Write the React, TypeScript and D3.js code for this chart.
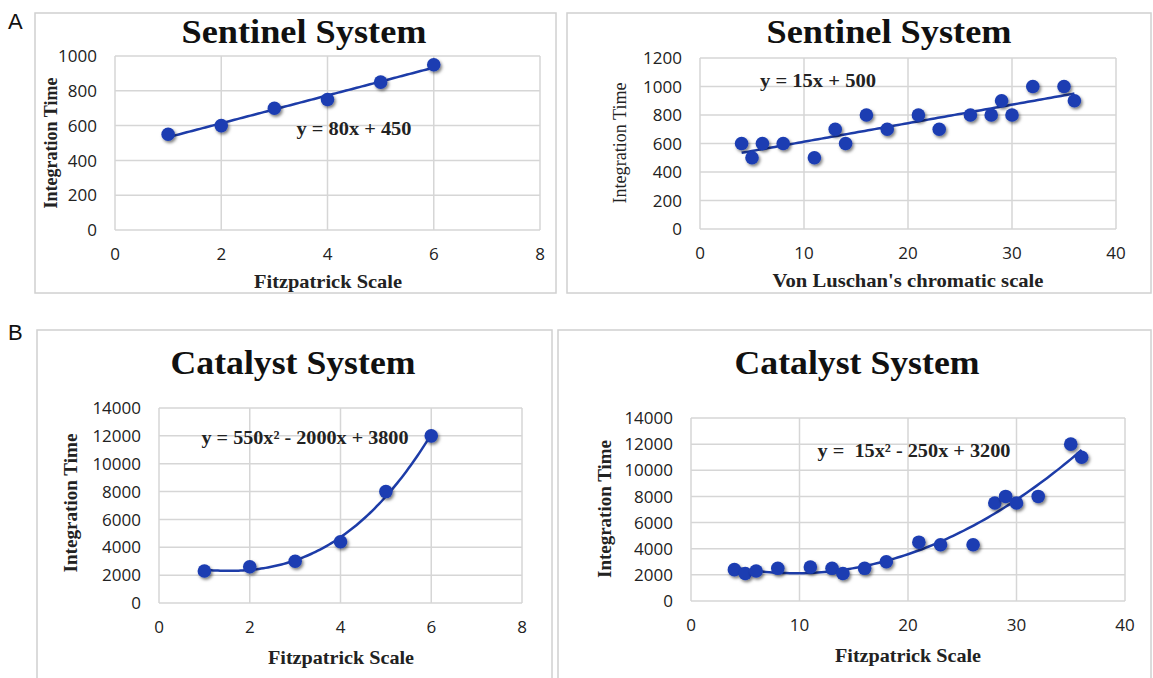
import React from 'react';
import * as d3 from 'd3';

// ---------- data ----------
const fitzX = [1, 2, 3, 4, 5, 6];
const sentinelFitzY = [550, 600, 700, 750, 850, 950];
const vonLuschanX = [4, 5, 6, 8, 11, 13, 14, 16, 18, 21, 23, 26, 28, 29, 30, 32, 35, 36];
const sentinelVLY = [600, 500, 600, 600, 500, 700, 600, 800, 700, 800, 700, 800, 800, 900, 800, 1000, 1000, 900];
const catalystFitzY = [2300, 2600, 3000, 4400, 8000, 12000];
const catalystX = [4, 5, 6, 8, 11, 13, 14, 16, 18, 21, 23, 26, 28, 29, 30, 32, 35, 36];
const catalystY = [2400, 2100, 2300, 2500, 2600, 2500, 2100, 2500, 3000, 4500, 4300, 4300, 7500, 8000, 7500, 8000, 12000, 11000];

const xTicksFitz = [0, 2, 4, 6, 8];
const xTicksVL = [0, 10, 20, 30, 40];
const yTicksSentinelFitz = [0, 200, 400, 600, 800, 1000];
const yTicksSentinelVL = [0, 200, 400, 600, 800, 1000, 1200];
const yTicksCatalyst = [0, 2000, 4000, 6000, 8000, 10000, 12000, 14000];

const titles = ['Sentinel System', 'Sentinel System', 'Catalyst System', 'Catalyst System'];
const equations = ['y = 80x + 450', 'y = 15x + 500', 'y = 550x\u00B2 - 2000x + 3800', 'y =  15x\u00B2 - 250x + 3200'];
const xTitles = ['Fitzpatrick Scale', "Von Luschan's chromatic scale", 'Fitzpatrick Scale', 'Fitzpatrick Scale'];
const yTitle = 'Integration Time';

// ---------- helpers ----------
function polyfit(xs: number[], ys: number[], deg: number): number[] {
  const n = deg + 1;
  const A: number[][] = Array.from({ length: n }, () => new Array(n + 1).fill(0));
  for (let r = 0; r < n; r++) {
    for (let c = 0; c < n; c++) A[r][c] = d3.sum(xs, (x) => Math.pow(x, r + c));
    A[r][n] = d3.sum(xs.map((x, i) => Math.pow(x, r) * ys[i]));
  }
  for (let i = 0; i < n; i++) {
    let p = i;
    for (let k = i + 1; k < n; k++) if (Math.abs(A[k][i]) > Math.abs(A[p][i])) p = k;
    [A[i], A[p]] = [A[p], A[i]];
    for (let k = i + 1; k < n; k++) {
      const f = A[k][i] / A[i][i];
      for (let j = i; j <= n; j++) A[k][j] -= f * A[i][j];
    }
  }
  const coef = new Array(n).fill(0);
  for (let i = n - 1; i >= 0; i--) {
    let s = A[i][n];
    for (let j = i + 1; j < n; j++) s -= A[i][j] * coef[j];
    coef[i] = s / A[i][i];
  }
  return coef;
}

const SERIF = '"Liberation Serif", "Times New Roman", serif';
const SANS = '"Open Sans", "Noto Sans", sans-serif';
const BLUE = '#1b3db2';
const LINE = '#1d3ca8';
const GRID = '#d6d6d6';

interface PanelProps {
  box: [number, number, number, number];
  plot: [number, number, number, number]; // x0, x1, yTop, yBottom
  xTicks: number[];
  yTicks: number[];
  xs: number[];
  ys: number[];
  degree: number;
  title: string;
  titlePos: [number, number];
  titleSize: number;
  titleLen: number;
  yLabelPos: [number, number];
  yLabelSize: number;
  yLabelLen: number;
  yLabelBold: boolean;
  xLabel: string;
  xLabelPos: [number, number];
  xLabelLen: number;
  eq: string;
  eqPos: [number, number];
  eqLen: number;
}

function Panel(p: PanelProps) {
  const [x0, x1, yT, yB] = p.plot;
  const x = d3.scaleLinear().domain([p.xTicks[0], p.xTicks[p.xTicks.length - 1]]).range([x0, x1]);
  const y = d3.scaleLinear().domain([p.yTicks[0], p.yTicks[p.yTicks.length - 1]]).range([yB, yT]);
  const coef = polyfit(p.xs, p.ys, p.degree);
  const f = (v: number) => coef.reduce((s, c, i) => s + c * Math.pow(v, i), 0);
  const xmin = d3.min(p.xs)!;
  const xmax = d3.max(p.xs)!;
  const samples = d3.range(0, 101).map((i) => xmin + ((xmax - xmin) * i) / 100);
  const line = d3.line<number>().x((v) => x(v)).y((v) => y(f(v)));
  return (
    <g>
      <rect x={p.box[0]} y={p.box[1]} width={p.box[2]} height={p.box[3]} fill="#fff" stroke="#d0d0d0" strokeWidth={1.5} />
      {p.yTicks.map((t) => (
        <line key={'h' + t} x1={x0} x2={x1} y1={y(t)} y2={y(t)} stroke={GRID} strokeWidth={1.5} />
      ))}
      {p.xTicks.map((t) => (
        <line key={'v' + t} x1={x(t)} x2={x(t)} y1={yT} y2={yB} stroke={GRID} strokeWidth={1.5} />
      ))}
      {p.yTicks.map((t) => (
        <text key={'yl' + t} x={x0 - 18} y={y(t)} dy="0.36em" textAnchor="end" fontFamily={SANS} fontSize={17} fill="#222">
          {t}
        </text>
      ))}
      {p.xTicks.map((t) => (
        <text key={'xl' + t} x={x(t)} y={yB + 24} dy="0.36em" textAnchor="middle" fontFamily={SANS} fontSize={17} fill="#222">
          {t}
        </text>
      ))}
      <path d={line(samples) || ''} fill="none" stroke={LINE} strokeWidth={2.5} />
      {p.xs.map((v, i) => (
        <circle key={'pt' + i} cx={x(v)} cy={y(p.ys[i])} r={6.8} fill={BLUE} filter="url(#shadow)" />
      ))}
      <text
        x={p.titlePos[0]}
        y={p.titlePos[1]}
        textAnchor="middle"
        fontFamily={SERIF}
        fontWeight="bold"
        fontSize={p.titleSize}
        fill="#111"
        textLength={p.titleLen}
        lengthAdjust="spacingAndGlyphs"
      >
        {p.title}
      </text>
      <text
        transform={`translate(${p.yLabelPos[0]},${p.yLabelPos[1]}) rotate(-90)`}
        dy="0.35em"
        textAnchor="middle"
        fontFamily={SERIF}
        fontWeight={p.yLabelBold ? 'bold' : 'normal'}
        fontSize={p.yLabelSize}
        fill="#222"
        textLength={p.yLabelLen}
        lengthAdjust="spacingAndGlyphs"
      >
        {yTitle}
      </text>
      <text
        x={p.xLabelPos[0]}
        y={p.xLabelPos[1]}
        dy="0.35em"
        textAnchor="middle"
        fontFamily={SERIF}
        fontWeight="bold"
        fontSize={19}
        fill="#222"
        textLength={p.xLabelLen}
        lengthAdjust="spacingAndGlyphs"
      >
        {p.xLabel}
      </text>
      <text
        x={p.eqPos[0]}
        y={p.eqPos[1]}
        dy="0.35em"
        textAnchor="middle"
        fontFamily={SERIF}
        fontWeight="bold"
        fontSize={19}
        fill="#222"
        style={{ whiteSpace: 'pre' }}
        textLength={p.eqLen}
        lengthAdjust="spacingAndGlyphs"
      >
        {p.eq}
      </text>
    </g>
  );
}

export default function App() {
  return (
    <svg width={1153} height={678} style={{ position: 'absolute', left: 0, top: 0, background: '#fff' }}>
      <defs>
        <filter id="shadow" x="-60%" y="-60%" width="220%" height="220%">
          <feDropShadow dx={1.5} dy={2} stdDeviation={1.6} floodColor="#000" floodOpacity={0.5} />
        </filter>
      </defs>
      <rect x={0} y={0} width={1153} height={678} fill="#fff" />
      <text x={8} y={29} fontFamily={'"Liberation Sans", Arial, sans-serif'} fontSize={22} fill="#111">A</text>
      <text x={8} y={340} fontFamily={'"Liberation Sans", Arial, sans-serif'} fontSize={22} fill="#111">B</text>
      <Panel
        box={[35, 13, 521, 280]}
        plot={[115, 540, 56, 230]}
        xTicks={xTicksFitz}
        yTicks={yTicksSentinelFitz}
        xs={fitzX}
        ys={sentinelFitzY}
        degree={1}
        title={titles[0]}
        titlePos={[304, 43]}
        titleSize={33}
        titleLen={245}
        yLabelPos={[50, 143]}
        yLabelSize={19}
        yLabelLen={131}
        yLabelBold={true}
        xLabel={xTitles[0]}
        xLabelPos={[328, 281]}
        xLabelLen={148}
        eq={equations[0]}
        eqPos={[354, 128]}
        eqLen={115}
      />
      <Panel
        box={[567, 13, 584, 280]}
        plot={[700, 1116, 58, 229]}
        xTicks={xTicksVL}
        yTicks={yTicksSentinelVL}
        xs={vonLuschanX}
        ys={sentinelVLY}
        degree={1}
        title={titles[1]}
        titlePos={[889, 43]}
        titleSize={33}
        titleLen={245}
        yLabelPos={[620, 143]}
        yLabelSize={18}
        yLabelLen={121}
        yLabelBold={false}
        xLabel={xTitles[1]}
        xLabelPos={[908, 280]}
        xLabelLen={271}
        eq={equations[1]}
        eqPos={[818, 80]}
        eqLen={116}
      />
      <Panel
        box={[37, 330, 515, 360]}
        plot={[159, 522, 408, 603]}
        xTicks={xTicksFitz}
        yTicks={yTicksCatalyst}
        xs={fitzX}
        ys={catalystFitzY}
        degree={3}
        title={titles[2]}
        titlePos={[293, 374]}
        titleSize={33}
        titleLen={245}
        yLabelPos={[70, 503]}
        yLabelSize={19}
        yLabelLen={139}
        yLabelBold={true}
        xLabel={xTitles[2]}
        xLabelPos={[341, 657]}
        xLabelLen={146}
        eq={equations[2]}
        eqPos={[305, 437]}
        eqLen={207}
      />
      <Panel
        box={[558, 330, 593, 360]}
        plot={[691, 1125, 418, 601]}
        xTicks={xTicksVL}
        yTicks={yTicksCatalyst}
        xs={catalystX}
        ys={catalystY}
        degree={2}
        title={titles[3]}
        titlePos={[857, 374]}
        titleSize={33}
        titleLen={245}
        yLabelPos={[604, 509]}
        yLabelSize={19}
        yLabelLen={138}
        yLabelBold={true}
        xLabel={xTitles[3]}
        xLabelPos={[908, 655]}
        xLabelLen={146}
        eq={equations[3]}
        eqPos={[914, 450]}
        eqLen={193}
      />
    </svg>
  );
}
